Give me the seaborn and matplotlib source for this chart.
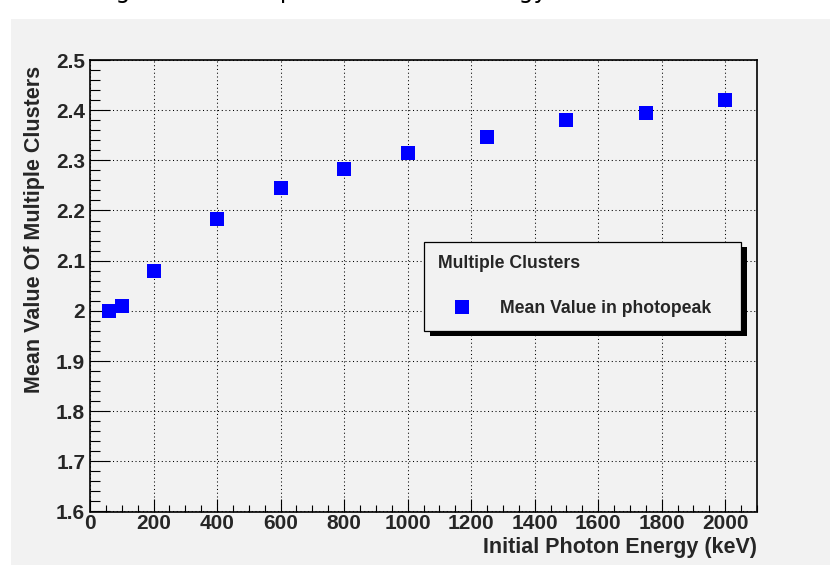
import matplotlib
matplotlib.use("Agg")
import matplotlib.pyplot as plt
import seaborn as sns
import pandas as pd
from matplotlib.patches import Rectangle
from matplotlib.lines import Line2D
from matplotlib.ticker import MultipleLocator, FuncFormatter

# ---- data ----
energy_kev = [60, 100, 200, 400, 600, 800, 1000, 1250, 1500, 1750, 2000]
mean_value = [2.000, 2.009, 2.079, 2.184, 2.244, 2.282, 2.315, 2.347, 2.380, 2.395, 2.421]
series_label = "Mean Value in photopeak"
legend_header = "Multiple Clusters"
x_label = "Initial Photon Energy (keV)"
y_label = "Mean Value Of Multiple Clusters"
page_caption = "Figure 10: Multiple clusters vs. energy"

df = pd.DataFrame({"energy": energy_kev, "mean": mean_value})

sns.set_style("ticks")
plt.rcParams['font.family'] = ['Liberation Sans', 'DejaVu Sans']
plt.rcParams['font.weight'] = 'bold'

BG = '#f2f2f2'
BLUE = '#0000ff'
W, H = 830, 565

fig = plt.figure(figsize=(W / 100, H / 100), dpi=100, facecolor='white')
bg = Rectangle((11 / W, 0), 1 - 11 / W, (H - 19) / H, transform=fig.transFigure,
               facecolor=BG, edgecolor='none', zorder=-5)
fig.add_artist(bg)

# caption of the page, cut off by the top edge in the reference
fig.text(97 / W, 1 + 2.2 / H, page_caption, ha='left', va='baseline',
         fontsize=17, fontweight='normal', family=['DejaVu Sans'], color='black')

left, right, top, bottom = 90, 757, 60, 511.5
ax = fig.add_axes([left / W, (H - bottom) / H, (right - left) / W, (bottom - top) / H])
ax.set_facecolor(BG)

sns.scatterplot(data=df, x="energy", y="mean", marker='s', s=92, color=BLUE,
                edgecolor=BLUE, linewidth=0, ax=ax, zorder=3, legend=False)

ax.set_xlim(0, 2100)
ax.set_ylim(1.6, 2.5)
ax.xaxis.set_major_locator(MultipleLocator(200))
ax.xaxis.set_minor_locator(MultipleLocator(50))
ax.yaxis.set_major_locator(MultipleLocator(0.1))
ax.yaxis.set_minor_locator(MultipleLocator(0.02))
fmt = FuncFormatter(lambda v, p: f"{v:g}")
ax.xaxis.set_major_formatter(fmt)
ax.yaxis.set_major_formatter(fmt)

ax.tick_params(axis='both', which='both', direction='in', color='black', width=0.8,
               top=False, right=False)
ax.tick_params(axis='x', which='major', length=9.4, pad=1.5, labelsize=15)
ax.tick_params(axis='x', which='minor', length=4.7)
ax.tick_params(axis='y', which='major', length=14.4, pad=3.5, labelsize=15)
ax.tick_params(axis='y', which='minor', length=7.2)
for lab in ax.get_xticklabels() + ax.get_yticklabels():
    lab.set_fontweight('bold')

ax.grid(True, which='major', color='black', linestyle=(0, (1, 2.6)), linewidth=0.75)
ax.set_axisbelow(True)
for sp in ax.spines.values():
    sp.set_color('black')
    sp.set_linewidth(1.2)
    sp.set_visible(True)

ax.set_xlabel(x_label, fontsize=15.5, fontweight='bold', loc='right')
ax.set_ylabel(y_label, fontsize=15.5, fontweight='bold', loc='top')
ax.xaxis.set_label_coords(1.0, -0.0565)
ax.yaxis.set_label_coords(-0.0675, 0.988)

# legend
handle = Line2D([], [], marker='s', linestyle='none', markersize=9.6,
                markerfacecolor=BLUE, markeredgewidth=0)
x0 = (424 - left) / (right - left)
x1 = (741 - left) / (right - left)
y1 = (bottom - 241.7) / (bottom - top)
y0 = (bottom - 330.7) / (bottom - top)
leg = ax.legend(handles=[handle], labels=[series_label], title=legend_header,
                loc='upper left', bbox_to_anchor=(x0, y0, x1 - x0, y1 - y0),
                mode='expand', borderaxespad=0, alignment='left',
                prop={'size': 12.7, 'weight': 'bold'},
                title_fontproperties={'size': 12.7, 'weight': 'bold'},
                borderpad=0.78, labelspacing=1.55, handlelength=2.75,
                handletextpad=0.8, fancybox=False, shadow=False, framealpha=1)
frame = leg.get_frame()
frame.set_facecolor(BG)
frame.set_edgecolor('black')
frame.set_linewidth(0.9)

fig.canvas.draw()
bb = leg.get_window_extent(fig.canvas.get_renderer())
inv = ax.transAxes.inverted()
(ax0, ay0), (ax1, ay1) = inv.transform([[bb.x0 + 5.5, bb.y0 - 5.5], [bb.x1 + 5.5, bb.y1 - 5.5]])
shadow = Rectangle((ax0, ay0), ax1 - ax0, ay1 - ay0, transform=ax.transAxes,
                   facecolor='black', edgecolor='none', zorder=4.9, clip_on=False)
ax.add_patch(shadow)

fig.savefig("out.png", dpi=100, facecolor='white')
